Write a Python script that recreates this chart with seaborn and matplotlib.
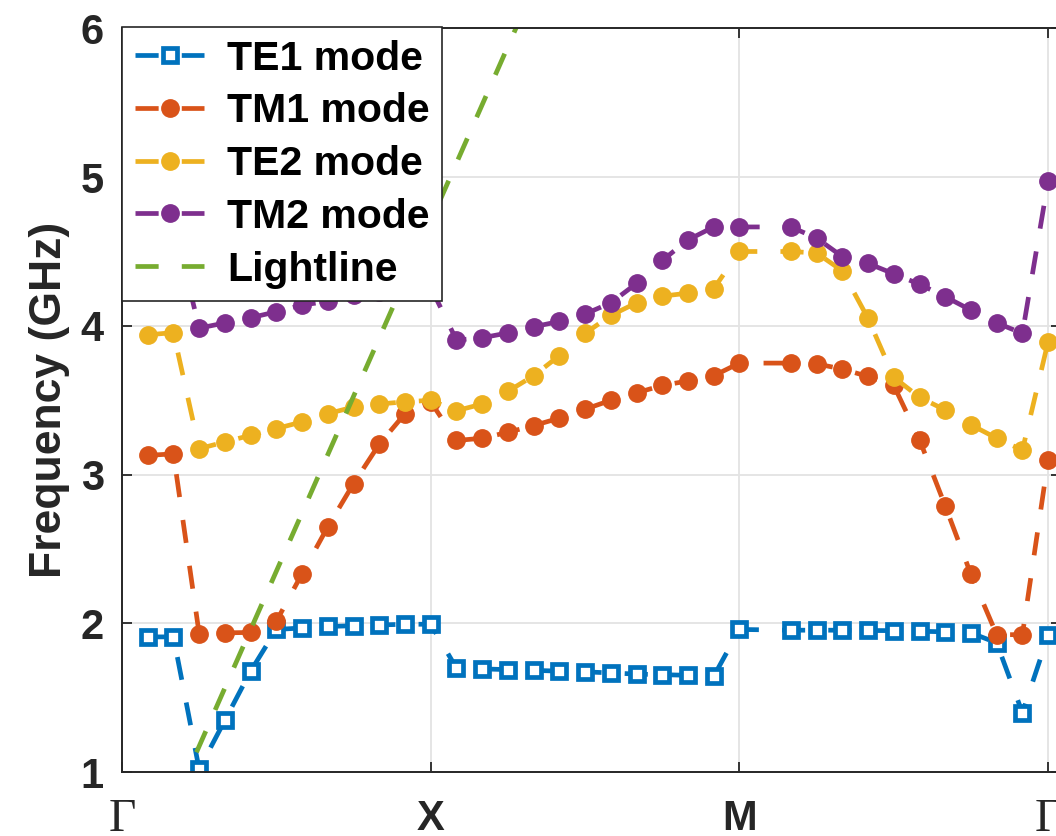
import matplotlib
matplotlib.use("Agg")
import matplotlib.pyplot as plt
import seaborn as sns

# sample index along the k-path (Gamma=0, X=12, M=24, Gamma=36); index 25 missing
k_index = list(range(1, 25)) + list(range(26, 37))

te1 = [1.91, 1.91, 1.02, 1.35, 1.68, 1.96, 1.97, 1.98, 1.985, 1.99, 1.995, 1.995,
       1.70, 1.695, 1.69, 1.685, 1.68, 1.675, 1.668, 1.66, 1.656, 1.652, 1.645, 1.96,
       1.955, 1.955, 1.955, 1.953, 1.952, 1.948, 1.944, 1.937, 1.87, 1.40, 1.92]
tm1 = [3.13, 3.14, 1.93, 1.937, 1.94, 2.015, 2.335, 2.65, 2.94, 3.205, 3.41, 3.49,
       3.23, 3.245, 3.285, 3.33, 3.38, 3.44, 3.50, 3.55, 3.60, 3.63, 3.665, 3.75,
       3.75, 3.745, 3.71, 3.66, 3.60, 3.235, 2.79, 2.33, 1.925, 1.925, 3.10]
te2 = [3.94, 3.955, 3.175, 3.22, 3.265, 3.31, 3.355, 3.41, 3.455, 3.475, 3.49, 3.50,
       3.43, 3.475, 3.56, 3.665, 3.80, 3.95, 4.07, 4.155, 4.20, 4.22, 4.25, 4.50,
       4.50, 4.49, 4.37, 4.05, 3.655, 3.52, 3.435, 3.335, 3.245, 3.165, 3.895]
tm2 = [4.68, 4.70, 3.985, 4.02, 4.055, 4.095, 4.14, 4.165, 4.205, 4.225, 4.245, 4.26,
       3.905, 3.92, 3.953, 3.994, 4.03, 4.08, 4.155, 4.285, 4.44, 4.578, 4.665, 4.665,
       4.665, 4.59, 4.466, 4.42, 4.35, 4.28, 4.196, 4.106, 4.02, 3.95, 4.975]

light_k = [0, 16]
light_f = [0.0, 6.27]

tick_pos = [0, 12, 24, 36]
tick_labels = ["Γ", "X", "M", "Γ"]

blue, orange, yellow, purple, green = "#0072BD", "#D95319", "#EDB120", "#7E2F8E", "#77AC30"

sns.set_theme(style="ticks")
plt.rcParams['font.family'] = ['Liberation Sans', 'DejaVu Sans']
plt.rcParams['lines.dashed_pattern'] = [4.9, 4.9]

fig = plt.figure(figsize=(10.56, 8.36), dpi=100)
ax = fig.add_axes([122 / 1056, 1 - 772.3 / 836, 939 / 1056, 744 / 836])

lw = 3.4
sns.lineplot(x=k_index, y=te1, ax=ax, color=blue, linestyle='--', linewidth=lw,
             marker='s', markersize=10.3, markerfacecolor='white', markeredgecolor=blue,
             markeredgewidth=3.4, label='TE1 mode')
for vals, col, name in [(tm1, orange, 'TM1 mode'), (te2, yellow, 'TE2 mode'), (tm2, purple, 'TM2 mode')]:
    sns.lineplot(x=k_index, y=vals, ax=ax, color=col, linestyle='--', linewidth=lw,
                 marker='o', markersize=12.5, markerfacecolor=col, markeredgecolor=col,
                 markeredgewidth=1, label=name)
sns.lineplot(x=light_k, y=light_f, ax=ax, color=green, linestyle='--', linewidth=lw,
             label='Lightline')
for line in ax.get_lines():
    line.set_linewidth(lw)
    line.set_dashes([4.9, 4.9])

ax.set_xlim(0, 36.5)
ax.set_ylim(1, 6)
ax.set_yticks([1, 2, 3, 4, 5, 6])
ax.set_xticks(tick_pos, tick_labels)
ax.grid(True, color='#e3e3e3', linewidth=1.3)
ax.set_axisbelow(True)

for s in ax.spines.values():
    s.set_visible(True)
    s.set_color('#262626')
    s.set_linewidth(1.4)

ax.tick_params(direction='in', length=7, width=1.3, top=True, right=True, colors='#262626')
ax.tick_params(axis='y', labelsize=30, pad=13)
ax.tick_params(axis='x', labelsize=30, pad=19)
for lab in ax.get_yticklabels() + ax.get_xticklabels():
    lab.set_fontweight('bold')
for lab in ax.get_xticklabels():
    if lab.get_text() == "Γ":
        lab.set_fontfamily('Liberation Serif')
        lab.set_fontweight('normal')
        lab.set_fontsize(34)

ax.set_ylabel('Frequency (GHz)', fontsize=32, fontweight='bold', color='#262626', labelpad=8)
ax.set_xlabel('')

leg = ax.legend(loc='upper left', bbox_to_anchor=(0, 1.002), borderaxespad=0,
                prop={'family': 'Liberation Sans', 'weight': 'bold', 'size': 29.5},
                frameon=True, fancybox=False, edgecolor='#262626', framealpha=1,
                handlelength=1.7, handletextpad=0.55, labelspacing=0.36, borderpad=0.31,
                numpoints=1, labelcolor='black')
leg.get_frame().set_linewidth(1.2)

fig.savefig("out.png", dpi=100)
